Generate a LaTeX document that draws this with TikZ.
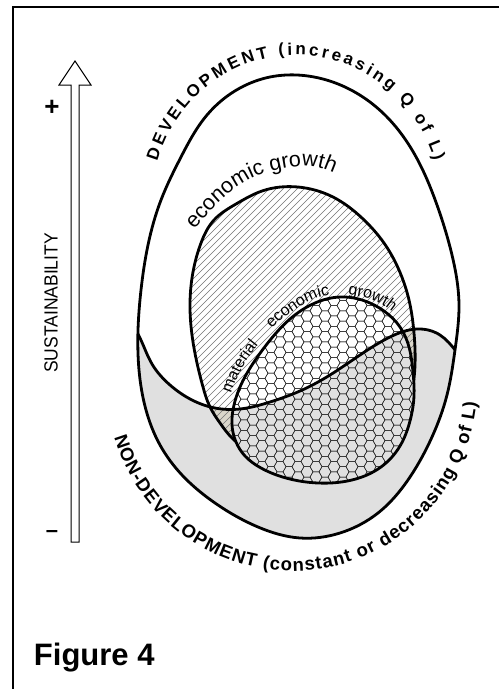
\documentclass[tikz,border=0pt]{standalone}
\usepackage{fontspec}
\setmainfont{Liberation Sans}
\usetikzlibrary{decorations.text,hobby}
\definecolor{ndgray}{RGB}{224,224,224}
\definecolor{wedgecol}{RGB}{218,214,202}
\begin{document}
\begin{tikzpicture}[x=1pt,y=-1pt,
  outline/.style={line width=2.8pt, line join=round},
  hexline/.style={line width=0.5pt, black!85},
  hatchline/.style={line width=0.4pt, black!55},
  frameline/.style={line width=1.7pt},
  arrowline/.style={line width=1pt, line join=miter},
  lbl/.style={inner sep=0pt, outer sep=0pt}]
\useasboundingbox (0,0) rectangle (499,689);

\def\pOuter{plot[closed hobby] coordinates {(297,75) (345,87) (385,115) (415,155) (437,205) (452,255) (459,305) (455,350) (447,395) (432,437) (410,477) (378,513) (340,533) (300,538) (258,527) (215,503) (182,475) (160,445) (146,410) (139,370) (138,330) (141,290) (148,245) (161,200) (181,157) (207,115) (240,88) (270,77)}}
\def\pS{plot[hobby] coordinates {(125,316) (139,336) (152,364) (170,385) (192,400) (215,408) (240,409) (270,402) (300,391) (330,375) (360,355) (390,337) (417,329) (440,335) (456,351) (472,370)}}
\def\pEcon{plot[closed hobby] coordinates {(298,187) (333,197) (362,218) (384,243) (399,270) (409,300) (414,333) (415,365) (411,395) (398,425) (365,455) (320,466) (280,462) (252,452) (232,438) (220,423) (210,407) (203,387) (197,363) (192,335) (190,303) (193,272) (201,243) (214,220) (236,204) (262,191)}}
\def\pHex{plot[closed hobby] coordinates {(340,297) (365,301) (384,311) (400,327) (409,347) (413,372) (414,396) (410,421) (400,446) (381,467) (352,480) (318,483) (286,478) (261,468) (245,456) (236,442) (232,425) (234,405) (240,387) (252,365) (267,344) (290,319) (315,303)}}

% frame
\draw[frameline] (499,7) -- (12.7,7) -- (12.7,689);

% sustainability arrow
\draw[arrowline] (71,542) -- (71,85) -- (59,85) -- (75,61) -- (91,85) -- (79,85) -- (79,542) -- cycle;
\node[lbl, font=\bfseries\fontsize{26}{26}\selectfont] (plus) at (52,108) {+};
\node[lbl, font=\bfseries\fontsize{22}{22}\selectfont] (minus) at (52,533.6) {–};
\node[lbl, rotate=90, font=\fontsize{19}{19}\selectfont] (sust) at (51,303) {\scalebox{0.92}[1]{SUSTAINABILITY}};
\node[lbl, anchor=base west, font=\bfseries\fontsize{31}{31}\selectfont] (fig) at (34,665) {Figure 4};

% non-development (grey) part of the outer egg
\begin{scope}
  \clip \pOuter;
  \fill[ndgray] \pS -- (490,600) -- (110,600) -- cycle;
\end{scope}

% economic growth region
\begin{scope}
  \clip \pEcon;
  \fill[wedgecol] \pS -- (490,600) -- (110,600) -- cycle;
  \foreach \c in {-130,-123,...,430} \draw[hatchline] (\c,490) -- (\c+320,170);
\end{scope}
\draw[outline] \pEcon;

% material economic growth region
\begin{scope}
  \clip \pHex;
  \fill[white] (220,280) rectangle (430,500);
  \fill[ndgray] \pS -- (490,600) -- (110,600) -- cycle;
  \foreach \i in {0,...,22}{\foreach \j in {0,...,20}{
    \pgfmathsetmacro\cx{226+9*\i}
    \pgfmathsetmacro\cy{290+10.392*\j+5.196*mod(\i,2)}
    \draw[hexline] (\cx+6,\cy) -- ++(-3,5.196) -- ++(-6,0) -- ++(-3,-5.196) -- ++(3,-5.196) -- ++(6,0) -- cycle;
  }}
\end{scope}
\draw[outline] \pHex;

% dividing curve
\begin{scope}
  \clip \pOuter;
  \draw[outline] \pS;
\end{scope}
\draw[outline] \pOuter;

% curved labels
\path[decorate, decoration={text along path, text align=fit to path,
  text={|\bfseries\fontsize{17}{17}\selectfont|DEVELOPMENT (increasing Q of L)}}]
  plot[domain=197:343, samples=90, variable=\t] ({296+145*cos(\t)}, {205+150*sin(\t)});
\path[decorate, decoration={text along path, text align=fit to path,
  text={|\bfseries\fontsize{18.5}{18.5}\selectfont|NON-DEVELOPMENT (constant or decreasing Q of L)}}]
  plot[domain=0:159, samples=90, variable=\t] ({292+185*cos(164-\t)}, {386+185*sin(164-\t)});
\path[decorate, decoration={text along path, text align=left,
  text={|\fontsize{21.5}{21.5}\selectfont|economic growth}}]
  plot[smooth] coordinates {(194,229) (205,217) (215,206) (226,196) (238,186) (252,178) (268,172) (285,168) (302,166) (320,168) (336,174) (352,182) (368,193)};
\path[decorate, decoration={text along path, text align=left,
  text={|\fontsize{16}{16}\selectfont|material}}]
  plot[smooth] coordinates {(231,394) (236,381) (247,360) (262,340) (286,316) (313,299) (340,294)};
\path[decorate, decoration={text along path, text align=left,
  text={|\fontsize{16}{16}\selectfont|economic}}]
  plot[smooth] coordinates {(272,329) (286,316) (313,299) (340,294) (366,298) (386,307) (404,323)};
\path[decorate, decoration={text along path, text align=left,
  text={|\fontsize{16}{16}\selectfont|growth}}]
  plot[smooth] coordinates {(348,295) (366,298) (386,307) (404,323) (415,345) (420,370)};
\end{tikzpicture}
\end{document}
